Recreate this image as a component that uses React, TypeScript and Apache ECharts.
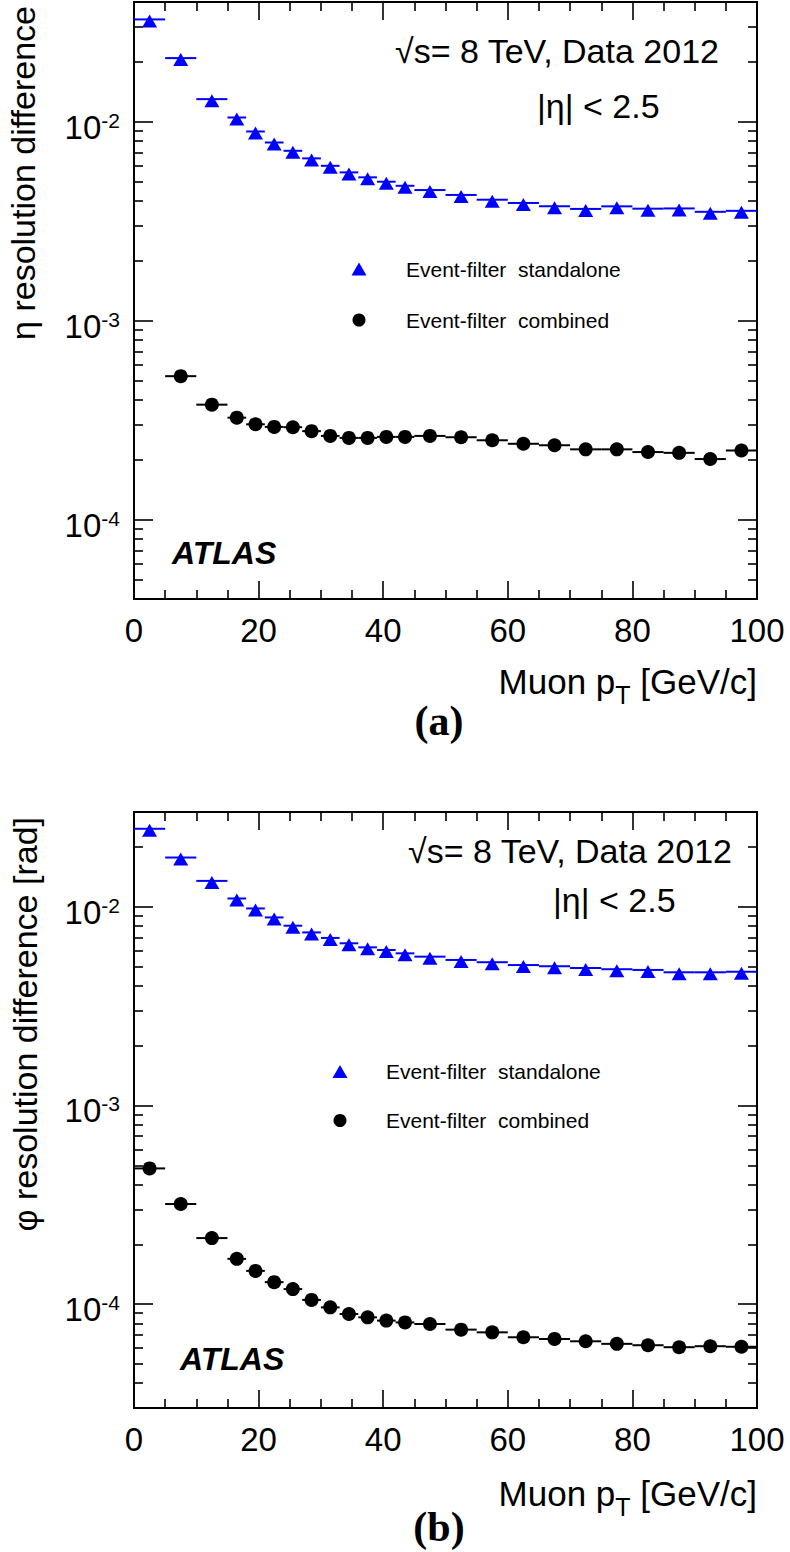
import React, { useEffect, useRef } from 'react';
import * as echarts from 'echarts';

// ---- data ----
const binEdges = [0, 5, 10, 15, 18, 21, 24, 27, 30, 33, 36, 39, 42, 45, 50, 55, 60, 65, 70, 75, 80, 85, 90, 95, 100];

const etaStandalone = [0.0327, 0.0209, 0.0130, 0.01051, 0.00894, 0.00787, 0.00715, 0.00655, 0.00601, 0.00557, 0.00526, 0.00500, 0.00477, 0.00454, 0.00429, 0.00406, 0.00391, 0.00376, 0.00365, 0.00376, 0.00366, 0.00367, 0.00353, 0.00357];
const etaCombined = [null, 0.000527, 0.000379, 0.000326, 0.000302, 0.000293, 0.000292, 0.000279, 0.000264, 0.000258, 0.000258, 0.000261, 0.000261, 0.000264, 0.000260, 0.000251, 0.000241, 0.000237, 0.000226, 0.000226, 0.000219, 0.000217, 0.000202, 0.000223];

const phiStandalone = [0.0247, 0.0177, 0.0135, 0.01101, 0.00981, 0.00884, 0.00803, 0.00743, 0.00697, 0.00655, 0.00625, 0.00606, 0.00583, 0.00561, 0.00540, 0.00526, 0.00509, 0.00502, 0.00492, 0.00485, 0.00481, 0.00468, 0.00468, 0.00471];
const phiCombined = [0.000482, 0.000319, 0.000215, 0.000169, 0.000147, 0.000129, 0.000119, 0.000105, 0.0000963, 0.0000892, 0.0000858, 0.0000826, 0.0000809, 0.0000794, 0.0000744, 0.0000721, 0.0000681, 0.0000668, 0.0000650, 0.0000631, 0.0000621, 0.0000607, 0.0000614, 0.0000610];

const seriesNames = ['Event-filter  standalone', 'Event-filter  combined'];
const xTickLabels = ['0', '20', '40', '60', '80', '100'];
const panelYTitles = ['\u03b7 resolution difference', '\u03c6 resolution difference [rad]'];
const panelTags = ['(a)', '(b)'];
const energyText = '\u221as= 8 TeV, Data 2012';
const etaCutText = '|\u03b7| < 2.5';
const xTitleParts = ['Muon p', 'T', ' [GeV/c]'];
const yRanges = [[4e-5, 0.04], [3e-5, 0.03]];

const SANS = '"Liberation Sans", Arial, Helvetica, sans-serif';
const BLUE = '#0000ff';

function minorValues(min: number, max: number) {
  const out: number[] = [];
  for (let e = -6; e <= 0; e++) {
    for (let k = 2; k <= 9; k++) {
      const v = Number((k * Math.pow(10, e)).toPrecision(6));
      if (v > min * 1.0001 && v < max * 0.9999) out.push(v);
    }
  }
  return out;
}

function barData(values: (number | null)[]) {
  const out: number[][] = [];
  values.forEach((v, i) => {
    if (v != null) out.push([binEdges[i], binEdges[i + 1], v]);
  });
  return out;
}
function pointData(values: (number | null)[]) {
  const out: number[][] = [];
  values.forEach((v, i) => {
    if (v != null) out.push([(binEdges[i] + binEdges[i + 1]) / 2, v]);
  });
  return out;
}

const tickLine = { color: '#000', width: 1.6 };

function buildOption() {
  const grids = [
    { left: 134, top: 2, width: 623, height: 597 },
    { left: 134, top: 812, width: 623, height: 596 },
  ].map((g) => ({ ...g, show: true, borderColor: '#000', borderWidth: 2, backgroundColor: 'transparent' }));

  const xAxes: any[] = [];
  const yAxes: any[] = [];
  [0, 1].forEach((p) => {
    const base = {
      type: 'value', gridIndex: p, min: 0, max: 100, interval: 20,
      axisLine: { show: false, onZero: false },
      splitLine: { show: false },
      axisTick: { show: true, inside: true, length: 18, lineStyle: tickLine },
      minorTick: { show: true, splitNumber: 4, length: 9, lineStyle: tickLine },
    };
    xAxes.push({
      ...base, position: 'bottom',
      axisLabel: {
        show: true, margin: 15, fontSize: 33, fontFamily: SANS, color: '#000',
        formatter: (v: number) => { const i = Math.round(v / 20); return xTickLabels[i] ?? ''; },
      },
    });
    xAxes.push({ ...base, position: 'top', axisLabel: { show: false } });

    const [ymin, ymax] = yRanges[p];
    const minors = minorValues(ymin, ymax);
    const ybase = {
      type: 'log', logBase: 10, gridIndex: p, min: ymin, max: ymax,
      axisLine: { show: false, onZero: false },
      splitLine: { show: false },
    };
    const major = { show: true, inside: true, length: 19, lineStyle: tickLine };
    const minor = { show: true, inside: true, length: 9, lineStyle: tickLine, customValues: minors };
    yAxes.push({
      ...ybase, position: 'left', axisTick: major,
      axisLabel: {
        show: true, margin: 14, color: '#000', fontSize: 33, fontFamily: SANS,
        formatter: (v: number) => {
          const e = Math.log10(v); const r = Math.round(e);
          if (Math.abs(e - r) > 1e-6) return '';
          return `{b|10}{s|${r}}`;
        },
        rich: {
          b: { fontSize: 33, fontFamily: SANS, color: '#000', padding: [11, 0, 0, 0] },
          s: { fontSize: 21, fontFamily: SANS, color: '#000', padding: [0, 0, 3, 0] },
        },
      },
    });
    yAxes.push({ ...ybase, position: 'left', axisTick: minor, axisLabel: { show: false } });
    yAxes.push({ ...ybase, position: 'right', axisTick: major, axisLabel: { show: false } });
    yAxes.push({ ...ybase, position: 'right', axisTick: minor, axisLabel: { show: false } });
  });

  const barSeries = (name: string, values: (number | null)[], color: string, p: number) => ({
    type: 'custom', name, xAxisIndex: p * 2, yAxisIndex: p * 4,
    data: barData(values), encode: { x: [0, 1], y: 2 }, silent: true, z: 2,
    renderItem: (params: any, api: any) => {
      const y = api.value(2);
      const a = api.coord([api.value(0), y]);
      const b = api.coord([api.value(1), y]);
      return { type: 'line', shape: { x1: a[0], y1: a[1], x2: b[0], y2: b[1] }, style: { stroke: color, lineWidth: 2 } };
    },
  });
  const pointSeries = (name: string, values: (number | null)[], color: string, p: number, tri: boolean) => ({
    type: 'scatter', name, xAxisIndex: p * 2, yAxisIndex: p * 4,
    data: pointData(values), z: 3,
    symbol: tri ? 'triangle' : 'circle',
    symbolSize: tri ? [15, 13] : 14,
    symbolOffset: tri ? [0, 1.5] : [0, 0],
    itemStyle: { color, opacity: 1 },
  });

  const series: any[] = [];
  const panelData = [[etaStandalone, etaCombined], [phiStandalone, phiCombined]];
  [0, 1].forEach((p) => {
    const [sa, cb] = panelData[p];
    series.push(barSeries('sa-bars-' + p, sa, BLUE, p));
    series.push(barSeries('cb-bars-' + p, cb, '#000', p));
    series.push(pointSeries(seriesNames[0], sa, BLUE, p, true));
    series.push(pointSeries(seriesNames[1], cb, '#000', p, false));
  });

  const legendPos = [
    { left: 351.5, top: 258.5, gap: 30, pad: 36.5 },
    { left: 332.5, top: 1061, gap: 28, pad: 35.5 },
  ];
  const legends = legendPos.map((l) => ({
    orient: 'vertical', left: l.left, top: l.top, padding: 0, itemGap: l.gap,
    itemWidth: 15, itemHeight: 13, selectedMode: false,
    textStyle: { fontSize: 21, fontFamily: SANS, color: '#000', padding: [0, 0, 0, l.pad - 2] },
    data: seriesNames,
  }));

  const txt = (x: number, y: number, text: string, font: string, align = 'left', extra: any = {}) => ({
    type: 'text', x, y, silent: true, ...extra,
    style: { text, font, fill: '#000', align, textAlign: align, verticalAlign: 'middle', textVerticalAlign: 'middle', ...(extra.style || {}) },
  });

  const graphics: any[] = [];
  const layout = [
    { yTitleX: 23, yTitleY: 6, eX: 395, eY: 51, cX: 537, cY: 106, atX: 172, atY: 553, xtY: 681, tagY: 721 },
    { yTitleX: 25, yTitleY: 817, eX: 408, eY: 851, cX: 553, cY: 900, atX: 180, atY: 1359, xtY: 1493, tagY: 1527 },
  ];
  layout.forEach((L, p) => {
    graphics.push({
      type: 'text', x: L.yTitleX, y: L.yTitleY, rotation: Math.PI / 2, silent: true,
      style: { text: panelYTitles[p], font: `34px ${SANS}`, fill: '#000', align: 'right', textAlign: 'right', verticalAlign: 'middle', textVerticalAlign: 'middle' },
    });
    graphics.push(txt(L.eX, L.eY, energyText, `34px ${SANS}`));
    graphics.push(txt(L.cX, L.cY, etaCutText, `34px ${SANS}`));
    graphics.push(txt(L.atX, L.atY, 'ATLAS', `italic bold 32px ${SANS}`));
    graphics.push({
      type: 'text', x: 757, y: L.xtY, silent: true,
      style: {
        text: `{n|${xTitleParts[0]}}{t|${xTitleParts[1]}}{n|${xTitleParts[2]}}`,
        align: 'right', textAlign: 'right', verticalAlign: 'middle', textVerticalAlign: 'middle',
        fill: '#000',
        rich: {
          n: { fontSize: 35, fontFamily: SANS, fill: '#000', color: '#000' },
          t: { fontSize: 25, fontFamily: SANS, fill: '#000', color: '#000', padding: [28, 0, 0, 0] },
        },
      },
    });
    graphics.push(txt(439, L.tagY, panelTags[p], `bold 42px "Liberation Serif", "Times New Roman", serif`, 'center'));
  });

  return {
    animation: false,
    backgroundColor: '#ffffff',
    grid: grids,
    xAxis: xAxes,
    yAxis: yAxes,
    legend: legends,
    series,
    graphic: { elements: graphics },
  };
}

export default function App() {
  const ref = useRef<HTMLDivElement>(null);
  useEffect(() => {
    if (!ref.current) return;
    const chart = echarts.init(ref.current, null, { renderer: 'svg' });
    chart.setOption(buildOption() as any);
    return () => chart.dispose();
  }, []);
  return <div ref={ref} style={{ position: 'absolute', left: 0, top: 0, width: 790, height: 1552, background: '#fff' }} />;
}
